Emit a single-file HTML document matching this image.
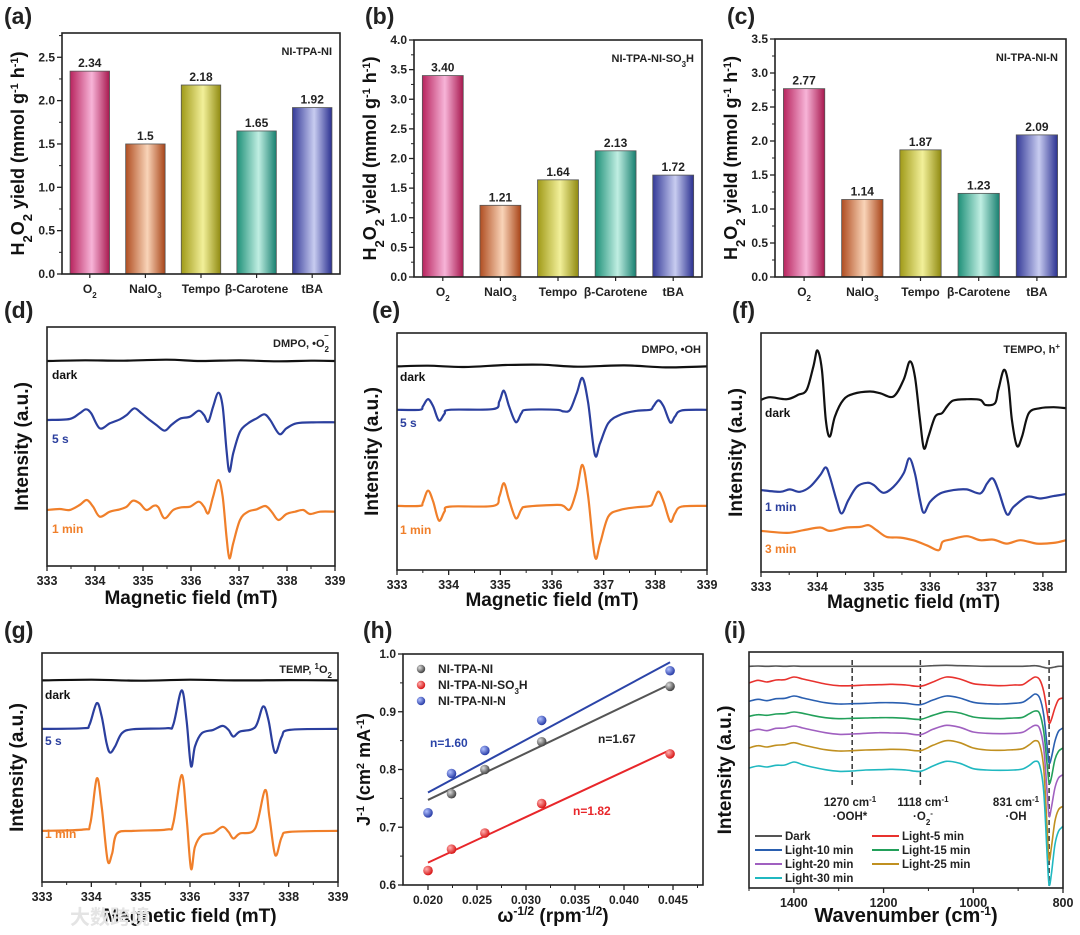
<!DOCTYPE html>
<html><head><meta charset="utf-8"><style>
html,body{margin:0;padding:0;background:#fff;}
svg{display:block;font-family:"Liberation Sans","Noto Sans CJK SC",sans-serif;font-weight:bold;}
</style></head><body>
<svg id="fig" width="1080" height="935" viewBox="0 0 1080 935" xmlns="http://www.w3.org/2000/svg">
<defs>
<radialGradient id="sphGray" cx="35%" cy="35%" r="65%"><stop offset="0" stop-color="#ddd"/><stop offset="1" stop-color="#444"/></radialGradient>
<radialGradient id="sphRed" cx="35%" cy="35%" r="65%"><stop offset="0" stop-color="#ffb0b0"/><stop offset="1" stop-color="#d81818"/></radialGradient>
<radialGradient id="sphBlue" cx="35%" cy="35%" r="65%"><stop offset="0" stop-color="#b0c0ff"/><stop offset="1" stop-color="#2a3ea8"/></radialGradient>
<linearGradient id="gO2" x1="0" x2="1"><stop offset="0" stop-color="#b8245e"/><stop offset="0.55" stop-color="#f7b4d8"/><stop offset="1" stop-color="#a8184e"/></linearGradient>
<linearGradient id="gNa" x1="0" x2="1"><stop offset="0" stop-color="#b04e22"/><stop offset="0.55" stop-color="#f9d4b8"/><stop offset="1" stop-color="#a84418"/></linearGradient>
<linearGradient id="gTe" x1="0" x2="1"><stop offset="0" stop-color="#a09a18"/><stop offset="0.55" stop-color="#f2f09a"/><stop offset="1" stop-color="#908a10"/></linearGradient>
<linearGradient id="gBe" x1="0" x2="1"><stop offset="0" stop-color="#1e9078"/><stop offset="0.55" stop-color="#c0eee2"/><stop offset="1" stop-color="#188070"/></linearGradient>
<linearGradient id="gTb" x1="0" x2="1"><stop offset="0" stop-color="#343a98"/><stop offset="0.55" stop-color="#c8ccf0"/><stop offset="1" stop-color="#2a3090"/></linearGradient>
</defs>
</svg>
<script>
// ---------- DATA ----------
const barCats = ['O<tspan baseline-shift="sub" font-size="8">2</tspan>','NaIO<tspan baseline-shift="sub" font-size="8">3</tspan>','Tempo','β-Carotene','tBA'];
const barFills = ['url(#gO2)','url(#gNa)','url(#gTe)','url(#gBe)','url(#gTb)'];
const valsA = [2.34,1.5,2.18,1.65,1.92];
const labelsA = ['2.34','1.5','2.18','1.65','1.92'];
const ticksA = [0,0.5,1.0,1.5,2.0,2.5];
const valsB = [3.40,1.21,1.64,2.13,1.72];
const labelsB = ['3.40','1.21','1.64','2.13','1.72'];
const ticksB = [0,0.5,1.0,1.5,2.0,2.5,3.0,3.5,4.0];
const valsC = [2.77,1.14,1.87,1.23,2.09];
const labelsC = ['2.77','1.14','1.87','1.23','2.09'];
const ticksC = [0,0.5,1.0,1.5,2.0,2.5,3.0,3.5];

const esrTicks = [333,334,335,336,337,338,339];
const esrTicksF = [333,334,335,336,337,338];

// (d)
const dDarkF = [333,333.8,334.6,335.5,336.2,337,337.8,338.5,339];
const dDarkV = [0,0.2,0.1,0.4,0,0.2,-0.1,0.1,0];
const d5sF = [333,333.47,333.68,333.81,333.92,334.1,334.31,334.52,334.66,334.82,334.97,335.14,335.28,335.45,335.59,335.77,335.98,336.16,336.27,336.36,336.46,336.57,336.66,336.74,336.8,336.88,337.02,337.19,337.37,337.53,337.65,337.84,337.99,338.2,338.62,339];
const d5sV = [0,0.3,2.0,3.2,2.0,-2.5,-1.0,0.2,1.5,3.5,2.0,0,-1.5,-3.2,-1.5,0.4,1.0,2.8,1.5,-0.5,4.0,8.2,4.0,-9.0,-15.5,-10.0,-3.5,-1.0,0.5,1.7,0,-4.2,-2.5,-1.0,-0.7,-0.7];
const d1mF = [333,333.26,333.47,333.68,333.83,333.96,334.1,334.31,334.52,334.66,334.79,334.93,335.07,335.23,335.32,335.45,335.63,335.8,335.98,336.16,336.27,336.36,336.46,336.57,336.66,336.74,336.8,336.88,337.02,337.19,337.37,337.55,337.68,337.82,337.99,338.17,338.34,338.48,338.69,339];
const d1mV = [0,0.3,0,1.5,3.0,1.0,-2.0,-0.5,0.2,1.0,2.8,2.0,0,1.3,0.8,-2.5,0,0.8,1.0,2.5,1.0,-1.0,4.0,9.0,4.0,-8.0,-14.5,-10.0,-3.0,-0.5,0.2,1.2,-0.5,-3.0,-1.2,-0.5,0,-1.2,-0.5,-0.5];

// (e)
const eDarkF = [333,333.6,334.3,335.1,335.8,336.5,337.4,338.2,339];
const eDarkV = [0,0.2,-0.2,0.4,0.5,-0.1,0.3,-0.3,0];
const e5sF = [333,333.44,333.5,333.6,333.7,333.81,333.92,334.02,334.86,334.98,335.07,335.17,335.3,335.41,335.51,336.09,336.22,336.35,336.48,336.59,336.7,336.83,336.93,337.09,337.32,337.64,337.9,337.96,338.06,338.16,338.29,338.38,338.51,339];
const e5sV = [0,0,1.0,3.2,1.0,-3.2,-1.2,0,0.2,2.5,5.7,1.0,-3.7,-1.0,0,0,-0.5,0,5.0,9.5,2.0,-13.5,-10.0,-4.0,-1.5,-0.3,0,1.0,2.8,1.0,-3.8,-2.0,-0.2,0];
const e1mV = [0,0,1.0,4.6,1.3,-4.4,-1.7,-0.2,0,2.8,6.8,1.8,-3.7,-1.0,-0.2,0.3,0,-1.0,4.8,12.3,2.8,-15.2,-11.2,-3.2,-1.2,-0.4,0,1.3,4.3,1.3,-4.7,-2.2,-0.2,0];

// (f)
const fDarkF = [333,333.16,333.46,333.66,333.81,333.93,334.0,334.08,334.15,334.22,334.31,334.46,334.64,334.93,335.11,335.35,335.53,335.64,335.73,335.82,335.89,335.97,336.09,336.21,336.3,336.41,336.65,336.89,336.98,337.15,337.21,337.31,337.39,337.45,337.54,337.63,337.75,337.95,338.19,338.41];
const fDarkV = [0,0.8,0.2,1.5,3.0,10.0,14.8,9.0,-6.0,-11.0,-5.0,0,1.8,2.5,2.0,1.0,6.0,11.5,7.0,-6.0,-14.5,-11.0,-5.0,-4.0,-2.0,-0.2,0.2,0,-1.5,-1.0,3.0,9.0,4.5,-6.0,-13.8,-11.0,-4.0,-2.5,-2.2,-2.5];
const f1mF = [333,333.34,333.51,333.69,333.87,334.05,334.15,334.22,334.34,334.43,334.55,334.7,334.88,335.0,335.17,335.35,335.53,335.63,335.73,335.82,335.89,336.0,336.18,336.41,336.65,336.89,337.01,337.11,337.21,337.36,337.48,337.72,337.95,338.19,338.41];
const f1mV = [0,-0.5,0.2,-0.5,1.0,4.5,6.8,4.0,-3.0,-7.0,-3.0,1.0,2.2,1.5,-0.8,1.0,5.0,9.5,5.0,-3.0,-6.8,-3.5,-1.0,0,0.2,-1.0,2.0,3.5,0,-7.2,-5.0,-2.0,-2.5,-1.8,-1.2];
const f3mF = [333,333.46,333.75,334.05,334.22,334.52,334.76,334.91,335.05,335.23,335.47,335.7,335.94,336.15,336.22,336.36,336.65,336.89,337.12,337.36,337.6,337.89,338.19,338.41];
const f3mV = [0.3,-0.3,0.5,1.3,0.3,1.3,1.5,2.0,0.5,-1.5,-1.7,-2.5,-4.0,-5.5,-3.0,-2.3,-1.3,-2.5,-2.3,-3.5,-2.5,-3.5,-3.3,-2.5];

// (g)
const gDarkF = [333,334,335,336,337,338,339];
const gDarkV = [0,0.2,-0.1,0.2,0,0.1,0];
const g5sF = [333,333.84,333.96,334.11,334.21,334.31,334.38,334.48,334.62,334.85,335.53,335.66,335.83,335.93,336.02,336.1,336.24,336.47,336.66,336.78,336.88,337.01,337.32,337.48,337.59,337.72,337.86,338.02,339];
const g5sV = [0,0.2,1.2,7.7,3.7,-4.3,-7.1,-5.3,-1.3,-0.1,0.2,1.2,11.5,2.7,-11.1,-5.3,-1.3,-0.3,0.9,-0.3,-2.3,-0.8,0.5,6.7,2.7,-7.1,-2.3,-0.3,0];
const g1mF = [333,333.84,333.98,334.11,334.21,334.33,334.42,334.52,334.85,335.53,335.66,335.83,335.93,336.02,336.1,336.24,336.47,336.66,336.78,336.88,337.01,337.32,337.52,337.61,337.73,337.86,338.02,339];
const g1mV = [0,0.4,2.2,15.7,7.2,-8.8,-6.8,-0.8,0,0.4,2.2,16.7,4.2,-11.3,-4.8,-1.3,-0.6,1.2,-0.3,-2.3,-0.8,0.7,12.2,4.2,-7.3,-1.8,-0.3,0];

// (h)
const hX = [0.020,0.0224,0.0258,0.0316,0.0447];
const hGrayX = [0.0224,0.0258,0.0316,0.0447];
const hGray = [0.758,0.800,0.848,0.944];
const hRed = [0.625,0.662,0.690,0.741,0.827];
const hBlue = [0.725,0.793,0.833,0.885,0.971];
const hXTicks = [0.020,0.025,0.030,0.035,0.040,0.045];
const hXLabels = ['0.020','0.025','0.030','0.035','0.040','0.045'];
const hYTicks = [0.6,0.7,0.8,0.9,1.0];
const hYLabels = ['0.6','0.7','0.8','0.9','1.0'];

// (i)
const iWn = [1500,1480,1460,1440,1420,1400,1380,1360,1330,1300,1270,1240,1210,1180,1150,1118,1090,1060,1030,1000,970,940,910,890,875,862,852,843,835,831,826,818,810,800];
const iDark = [0,0.1,0,0.1,0,0.1,0,0,0,0,0,0,0,0,0,0,0.2,0.3,0.2,0.1,0,0,0,0,0.1,0.2,0,-0.3,-0.5,-0.5,-0.4,-0.2,0,0];
const iL5 = [0,0.8,0.3,0.9,1.0,1.8,1.2,0.6,-0.3,-0.8,-0.8,-0.6,-0.5,-0.4,-0.6,-1.0,0.3,1.8,1.2,-0.2,-0.6,-0.8,-0.6,-0.5,0.8,1.8,1.0,-2.5,-9,-12,-11,-7.5,-5,-4.5];
const iL10 = [0,0.6,0.2,0.8,0.9,1.6,1.0,0.4,-0.4,-0.8,-0.7,-0.6,-0.4,-0.4,-0.6,-1.0,0.4,1.6,1.0,-0.3,-0.7,-0.8,-0.6,-0.3,1.0,2.2,1.0,-4,-14,-18.5,-17,-12,-9,-8];
const iL15 = [0,0.5,0.3,0.7,0.8,1.3,0.9,0.3,-0.4,-0.7,-0.6,-0.5,-0.4,-0.4,-0.6,-0.9,0.3,1.4,1.0,-0.2,-0.6,-0.7,-0.5,-0.3,0.8,1.6,0.8,-4.5,-15,-20,-18.5,-13,-10.5,-9.5];
const iL20 = [0,0.6,0.2,0.9,1.0,1.6,1.0,0.4,-0.4,-0.9,-0.8,-0.6,-0.4,-0.5,-0.6,-1.0,0.6,1.8,1.2,-0.2,-0.6,-0.7,-0.6,-0.3,0.9,1.8,0.8,-5,-19,-25.5,-23,-17,-14,-13];
const iL25 = [0,0.7,0.3,0.8,1.0,1.6,0.9,0.3,-0.5,-0.9,-0.8,-0.6,-0.5,-0.4,-0.5,-0.8,0.8,2.2,1.6,0,-0.6,-0.7,-0.5,-0.2,1.0,2.2,1.0,-6,-25,-33.5,-30,-22,-18.5,-17.5];
const iL30 = [0,0.6,0.3,0.8,0.9,1.8,1.0,0.3,-0.5,-1.0,-0.9,-0.6,-0.5,-0.4,-0.6,-1.0,0.6,2.0,1.4,-0.2,-0.6,-0.7,-0.6,-0.3,0.8,2.0,0.8,-7,-27,-35,-32,-23,-19,-17.5];
const iXTicks = [1400,1200,1000,800];
const iMarks = [1270,1118,831];

// ---------- HELPERS ----------
const NS='http://www.w3.org/2000/svg';
const svg=document.getElementById('fig');
function el(tag,attrs,parent){const e=document.createElementNS(NS,tag);for(const k in attrs)e.setAttribute(k,attrs[k]);(parent||svg).appendChild(e);return e;}
function tx(html,x,y,size,anchor,fill,parent){const t=el('text',{x:x,y:y,'font-size':size,'text-anchor':anchor||'middle',fill:fill||'#111'},parent);t.innerHTML=html;return t;}
function lin(d0,d1,r0,r1){return v=>r0+(v-d0)/(d1-d0)*(r1-r0);}
function smooth(pts){let d='M'+pts[0][0].toFixed(1)+','+pts[0][1].toFixed(1);for(let i=0;i<pts.length-1;i++){const p0=pts[i-1]||pts[i],p1=pts[i],p2=pts[i+1],p3=pts[i+2]||p2;const c1=[p1[0]+(p2[0]-p0[0])/6,p1[1]+(p2[1]-p0[1])/6],c2=[p2[0]-(p3[0]-p1[0])/6,p2[1]-(p3[1]-p1[1])/6];d+='C'+c1[0].toFixed(1)+','+c1[1].toFixed(1)+' '+c2[0].toFixed(1)+','+c2[1].toFixed(1)+' '+p2[0].toFixed(1)+','+p2[1].toFixed(1);}return d;}
function frame(g,b){const r=el('rect',{x:b.l,y:b.t,width:b.r-b.l,height:b.b-b.t,fill:'none',stroke:'#222','stroke-width':1.6},g);}
function panelLabel(s,x,y){const t=tx(s,x,y,23,'start','#222');}

// ---------- BAR PANELS ----------
function bars(name,b,ymax,ticks,vals,labels,tag){
  const g=el('g',{});
  const y=lin(0,ymax,b.b,b.t);const band=(b.r-b.l)/vals.length;const bw=band*0.71;
  vals.forEach((v,i)=>{const cx=b.l+band*(i+0.5);
    const r=el('rect',{x:cx-bw/2,y:y(v),width:bw,height:b.b-y(v),fill:barFills[i],stroke:'#555','stroke-width':0.8},g);
    
    
    const t=tx(labels[i],cx,y(v)-4,12,'middle','#222',g);
    
    
    const c=tx(barCats[i],cx,b.b+19,12,'middle','#222',g);
    
    
    el('line',{x1:cx,x2:cx,y1:b.b,y2:b.b+4,stroke:'#222','stroke-width':1.2},g);
  });
  ticks.forEach(v=>{el('line',{x1:b.l-5,x2:b.l,y1:y(v),y2:y(v),stroke:'#222','stroke-width':1.3},g);
    if(v+0.25<=ymax)el('line',{x1:b.l-3,x2:b.l,y1:y(v+0.25),y2:y(v+0.25),stroke:'#222','stroke-width':1},g);
    const t=tx(v.toFixed(1),b.l-7,y(v)+4,12,'end','#222',g);
    
    });
  frame(g,b);
  const a=tx(tag,b.r-8,b.t+22,11,'end','#222',g);
  const yt=tx('H<tspan baseline-shift="sub" font-size="13">2</tspan>O<tspan baseline-shift="sub" font-size="13">2</tspan> yield (mmol g<tspan baseline-shift="super" font-size="11">-1</tspan> h<tspan baseline-shift="super" font-size="11">-1</tspan>)',0,0,18,'middle','#111',g);
  yt.setAttribute('transform','translate('+(b.l-38)+','+((b.t+b.b)/2)+') rotate(-90)');
  
}
bars('bar-chart-a',{l:62,r:340,t:33,b:274},2.78,ticksA,valsA,labelsA,'NI-TPA-NI');
bars('bar-chart-b',{l:414,r:702,t:40,b:277},4.0,ticksB,valsB,labelsB,'NI-TPA-NI-SO<tspan baseline-shift="sub" font-size="8">3</tspan>H');
bars('bar-chart-c',{l:775,r:1066,t:39,b:277},3.5,ticksC,valsC,labelsC,'NI-TPA-NI-N');
panelLabel('(a)',4,24);panelLabel('(b)',365,24);panelLabel('(c)',727,24);

// ---------- ESR PANELS ----------
function esr(name,b,xdom,ticks,ydom,traces,ann,xtitleY){
  const g=el('g',{});
  const x=lin(xdom[0],xdom[1],b.l,b.r),y=lin(ydom[0],ydom[1],b.b,b.t);
  traces.forEach(tr=>{const pts=tr.f.map((f,i)=>[x(f),y(tr.v[i]+tr.off)]);
    const p=el('path',{d:smooth(pts),fill:'none',stroke:tr.c,'stroke-width':2.2,'stroke-linejoin':'round'},g);
    
    
    const t=tx(tr.n,tr.lx,tr.ly,12,'start',tr.c,g);
    
    });
  ticks.forEach(v=>{el('line',{x1:x(v),x2:x(v),y1:b.b,y2:b.b+5,stroke:'#222','stroke-width':1.3},g);
    if(v+0.5<=xdom[1])el('line',{x1:x(v+0.5),x2:x(v+0.5),y1:b.b,y2:b.b+3,stroke:'#222','stroke-width':1},g);
    const t=tx(String(v),x(v),b.b+19,12.5,'middle','#222',g);
    
    });
  frame(g,b);
  const a=tx(ann,b.r-6,b.t+20,11,'end','#222',g);
  const xt=tx('Magnetic field (mT)',(b.l+b.r)/2,xtitleY,19,'middle','#111',g);
  const yt=tx('Intensity (a.u.)',0,0,19,'middle','#111',g);
  yt.setAttribute('transform','translate('+(b.l-19)+','+((b.t+b.b)/2)+') rotate(-90)');
  
}
const BL='#2b3f9e',OR='#f07f2a',BK='#111';
esr('esr-chart-d',{l:47,r:335,t:327,b:566},[333,339],esrTicks,[-16.8,54.9],[
 {n:'dark',f:dDarkF,v:dDarkV,off:44.7,c:BK,lx:52,ly:379},
 {n:'5 s',f:d5sF,v:d5sV,off:27,c:BL,lx:52,ly:443},
 {n:'1 min',f:d1mF,v:d1mV,off:0,c:OR,lx:52,ly:533}],'DMPO, •O<tspan baseline-shift="sub" font-size="8">2</tspan><tspan dy="-9" dx="-5" font-size="8">−</tspan>',604);
esr('esr-chart-e',{l:397,r:707,t:333,b:570},[333,339],esrTicks,[-19.2,51.8],[
 {n:'dark',f:eDarkF,v:eDarkV,off:41.8,c:BK,lx:400,ly:381},
 {n:'5 s',f:e5sF,v:e5sV,off:28.8,c:BL,lx:400,ly:427},
 {n:'1 min',f:e5sF,v:e1mV,off:0,c:OR,lx:400,ly:534}],'DMPO, •OH',606);
esr('esr-chart-f',{l:761,r:1066,t:333,b:572},[333,338.41],esrTicksF,[-12,59.5],[
 {n:'dark',f:fDarkF,v:fDarkV,off:39.5,c:BK,lx:765,ly:417},
 {n:'1 min',f:f1mF,v:f1mV,off:12.5,c:BL,lx:765,ly:511},
 {n:'3 min',f:f3mF,v:f3mV,off:0,c:OR,lx:765,ly:553}],'TEMPO, h<tspan baseline-shift="super" font-size="8">+</tspan>',608);
esr('esr-chart-g',{l:42,r:338,t:653,b:882},[333,339],esrTicks,[-15.3,53.2],[
 {n:'dark',f:gDarkF,v:gDarkV,off:45,c:BK,lx:45,ly:699},
 {n:'5 s',f:g5sF,v:g5sV,off:30.5,c:BL,lx:45,ly:745},
 {n:'1 min',f:g1mF,v:g1mV,off:0,c:OR,lx:45,ly:838}],'TEMP, <tspan baseline-shift="super" font-size="8">1</tspan>O<tspan baseline-shift="sub" font-size="8">2</tspan>',922);
panelLabel('(d)',4,318);panelLabel('(e)',372,318);panelLabel('(f)',732,318);panelLabel('(g)',4,638);

// ---------- (h) K-L plot ----------
(function(){
  const b={l:403,r:703,t:654,b:885};
  const g=el('g',{});
  const x=lin(0.01745,0.04806,b.l,b.r),y=lin(0.6,1.0,b.b,b.t);
  function fit(xs,ys,color,name){const n=xs.length;const mx=xs.reduce((a,c)=>a+c)/n,my=ys.reduce((a,c)=>a+c)/n;let sxy=0,sxx=0;xs.forEach((v,i)=>{sxy+=(v-mx)*(ys[i]-my);sxx+=(v-mx)*(v-mx);});const k=sxy/sxx,c=my-k*mx;
    const l=el('line',{x1:x(0.020),y1:y(k*0.020+c),x2:x(0.0447),y2:y(k*0.0447+c),stroke:color,'stroke-width':2},g);
    
    }
  function pts(xs,ys,fill,name){xs.forEach((v,i)=>{const c=el('circle',{cx:x(v),cy:y(ys[i]),r:4.8,fill:fill},g);
    
    });}
  fit(hGrayX,hGray,'#555','gray');fit(hX,hRed,'#e8262a','red');fit(hX,hBlue,'#2b44a8','blue');
  pts(hGrayX,hGray,'url(#sphGray)','gray');pts(hX,hRed,'url(#sphRed)','red');pts(hX,hBlue,'url(#sphBlue)','blue');
  hXTicks.forEach((v,i)=>{el('line',{x1:x(v),x2:x(v),y1:b.b,y2:b.b+5,stroke:'#222','stroke-width':1.3},g);
    el('line',{x1:x(v+0.0025),x2:x(v+0.0025),y1:b.b,y2:b.b+3,stroke:'#222','stroke-width':1},g);
    const t=tx(hXLabels[i],x(v),b.b+19,12,'middle','#222',g);
    
    });
  hYTicks.forEach((v,i)=>{el('line',{x1:b.l-5,x2:b.l,y1:y(v),y2:y(v),stroke:'#222','stroke-width':1.3},g);
    if(v<1)el('line',{x1:b.l-3,x2:b.l,y1:y(v+0.05),y2:y(v+0.05),stroke:'#222','stroke-width':1},g);
    const t=tx(hYLabels[i],b.l-7,y(v)+4,12,'end','#222',g);
    
    });
  frame(g,b);
  const leg=[['NI-TPA-NI','url(#sphGray)'],['NI-TPA-NI-SO<tspan baseline-shift="sub" font-size="8">3</tspan>H','url(#sphRed)'],['NI-TPA-NI-N','url(#sphBlue)']];
  leg.forEach((L,i)=>{const c=el('circle',{cx:421,cy:669+i*16,r:4.2,fill:L[1]},g);
    
    
    const t=tx(L[0],438,673+i*16,12,'start','#222',g);
    
    });
  const n1=tx('n=1.60',430,747,12,'start','#2b44a8',g);
  const n2=tx('n=1.67',598,743,12,'start','#222',g);
  const n3=tx('n=1.82',573,815,12,'start','#e8262a',g);
  const xt=tx('ω<tspan baseline-shift="super" font-size="12">-1/2</tspan> (rpm<tspan baseline-shift="super" font-size="12">-1/2</tspan>)',(b.l+b.r)/2,922,19,'middle','#111',g);
  
  const yt=tx('J<tspan baseline-shift="super" font-size="11">-1</tspan> (cm<tspan baseline-shift="super" font-size="11">2</tspan> mA<tspan baseline-shift="super" font-size="11">-1</tspan>)',0,0,18,'middle','#111',g);
  yt.setAttribute('transform','translate('+(b.l-33)+','+((b.t+b.b)/2)+') rotate(-90)');
  
})();
panelLabel('(h)',363,638);

// ---------- (i) FTIR ----------
(function(){
  const b={l:749,r:1063,t:652,b:888};
  const g=el('g',{});
  const x=lin(1500,800,b.l,b.r),y=lin(0,70.8,b.b,b.t);
  iMarks.forEach(m=>{const l=el('line',{x1:x(m),x2:x(m),y1:b.t+8,y2:m===831?b.b-2:b.t+135,stroke:'#333','stroke-width':1.5,'stroke-dasharray':'5,3'},g);
    
    });
  const series=[['Dark',iDark,66.5,'#555'],['Light-5 min',iL5,61.5,'#e8322e'],['Light-10 min',iL10,56,'#2a5fb0'],['Light-15 min',iL15,51.5,'#22a05a'],['Light-20 min',iL20,47,'#a060c0'],['Light-25 min',iL25,42,'#c09020'],['Light-30 min',iL30,36,'#20b8c0']];
  series.forEach(s=>{const pts=iWn.map((w,i)=>[x(w),y(s[1][i]+s[2])]);
    const p=el('path',{d:smooth(pts),fill:'none',stroke:s[3],'stroke-width':1.6},g);
    
    });
  iXTicks.forEach(v=>{el('line',{x1:x(v),x2:x(v),y1:b.b,y2:b.b+5,stroke:'#222','stroke-width':1.3},g);
    el('line',{x1:x(v+100),x2:x(v+100),y1:b.b,y2:b.b+3,stroke:'#222','stroke-width':1},g);
    const t=tx(String(v),x(v),b.b+19,12.5,'middle','#222',g);
    
    });
  frame(g,b);
  const ann=[['1270 cm<tspan baseline-shift="super" font-size="8">-1</tspan>','·OOH*',850],['1118 cm<tspan baseline-shift="super" font-size="8">-1</tspan>','·O<tspan baseline-shift="sub" font-size="8">2</tspan><tspan baseline-shift="super" font-size="8">-</tspan>',923],['831 cm<tspan baseline-shift="super" font-size="8">-1</tspan>','·OH',1016]];
  ann.forEach(A=>{const t1=tx(A[0],A[2],806,11.5,'middle','#222',g);
    
    
    const t2=tx(A[1],A[2],820,11.5,'middle','#222',g);
    
    });
  series.forEach((s,i)=>{const col=i%2,row=Math.floor(i/2);const lx=col?872:755,ly=836+row*14;
    const l=el('line',{x1:lx,x2:lx+27,y1:ly,y2:ly,stroke:s[3],'stroke-width':2},g);
    
    
    const t=tx(s[0],lx+30,ly+4,11.5,'start','#222',g);
    
    });
  const xt=tx('Wavenumber (cm<tspan baseline-shift="super" font-size="12">-1</tspan>)',(b.l+b.r)/2,922,20,'middle','#111',g);
  
  const yt=tx('Intensity (a.u.)',0,0,19,'middle','#111',g);
  yt.setAttribute('transform','translate('+(b.l-18)+','+((b.t+b.b)/2)+') rotate(-90)');
  
})();
panelLabel('(i)',724,638);
const wm=tx('大数跨境',70,924,20,'start','#e4e4e4');


</script>
</body></html>
